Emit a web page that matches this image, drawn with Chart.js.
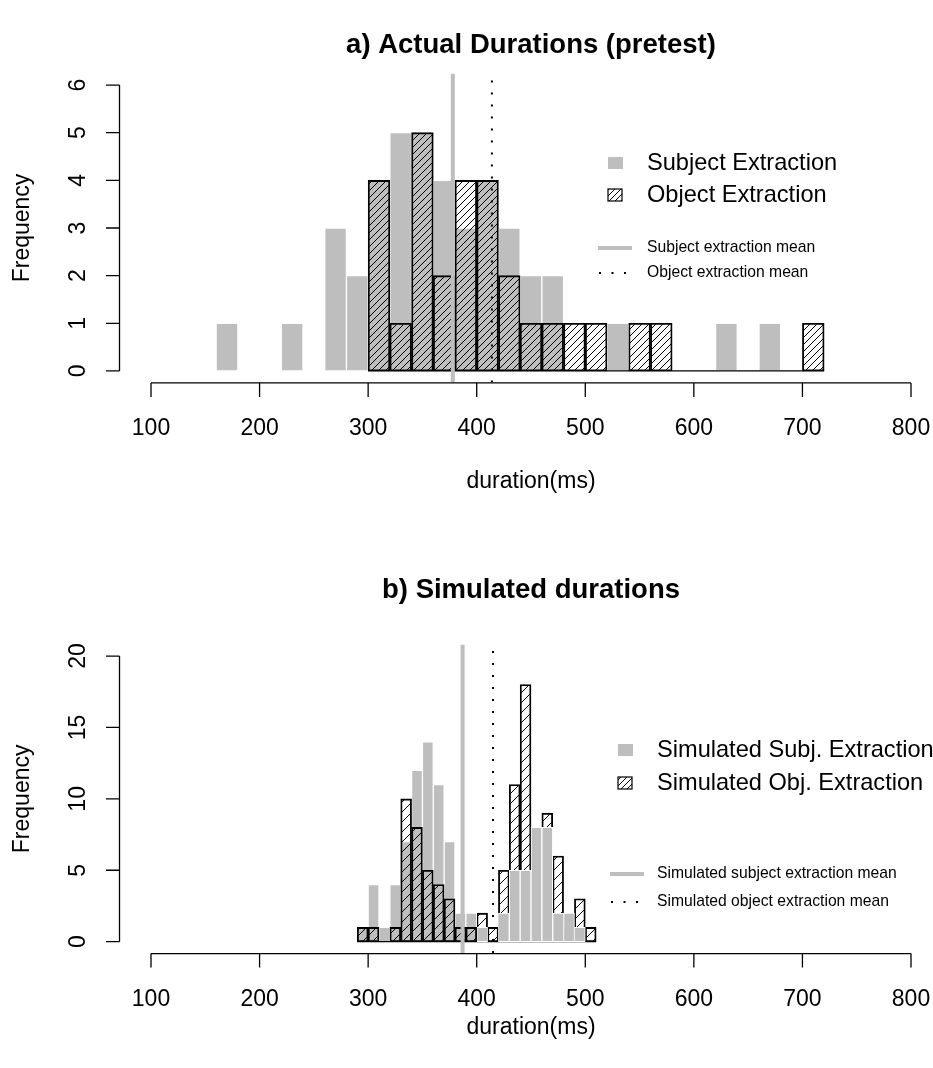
<!DOCTYPE html>
<html>
<head>
<meta charset="utf-8">
<script src="https://cdn.jsdelivr.net/npm/chart.js@4.4.0/dist/chart.umd.min.js"></script>
<style>
    html, body { margin: 0; padding: 0; background: #fff; }
    #wrap { position: relative; width: 933px; height: 1068px; overflow: hidden; }
    canvas { position: absolute; left: 0; }
</style>
</head>
<body>
<div id="wrap">
    <canvas id="chart-actual" width="933" height="534" style="top:0"></canvas>
    <canvas id="chart-sim" width="933" height="534" style="top:534px"></canvas>
</div>
<script>
// a) actual durations, 20 ms bins (left edge of each bin)
const actualSubjBins = [160, 180, 200, 220, 240, 260, 280, 300, 320, 340, 360, 380, 400, 420, 440, 460, 480, 500, 520, 540, 560, 580, 600, 620, 640, 660, 680, 700];
const actualSubjCounts = [1, 0, 0, 1, 0, 3, 2, 4, 5, 5, 4, 3, 4, 3, 2, 2, 0, 0, 1, 0, 0, 0, 0, 1, 0, 1, 0, 0];
const actualObjBins = [300, 320, 340, 360, 380, 400, 420, 440, 460, 480, 500, 520, 540, 560, 580, 600, 620, 640, 660, 680, 700];
const actualObjCounts = [4, 1, 5, 2, 4, 4, 2, 1, 1, 1, 1, 0, 1, 1, 0, 0, 0, 0, 0, 0, 1];
const actualBinWidth = 20;
const actualSubjMean = 378;
const actualObjMean = 414;

// b) simulated durations, 10 ms bins
const simBins = [290, 300, 310, 320, 330, 340, 350, 360, 370, 380, 390, 400, 410, 420, 430, 440, 450, 460, 470, 480, 490, 500];
const simSubjCounts = [1, 4, 1, 4, 7, 12, 14, 11, 7, 2, 2, 1, 0, 2, 5, 5, 8, 8, 2, 2, 1, 0];
const simObjCounts = [1, 1, 0, 1, 10, 8, 5, 4, 3, 1, 1, 2, 1, 5, 11, 18, 8, 9, 6, 1, 3, 1];
const simBinWidth = 10;
const simSubjMean = 387;
const simObjMean = 415;
// in the original the upper object bins sit underneath the grey bars
const simObjSplit = 400;

const xTicks = [100, 200, 300, 400, 500, 600, 700, 800];
const actualYTicks = [0, 1, 2, 3, 4, 5, 6];
const simYTicks = [0, 5, 10, 15, 20];

const FONT = '"Liberation Sans", Arial, Helvetica, sans-serif';
const GREY = '#bebebe';

const hatch = (spacing) => {
    const tile = document.createElement('canvas');
    tile.width = spacing;
    tile.height = spacing;
    const g = tile.getContext('2d');
    g.strokeStyle = '#000';
    g.lineWidth = 1;
    g.beginPath();
    g.moveTo(0, spacing); g.lineTo(spacing, 0);
    g.moveTo(-1, 1); g.lineTo(1, -1);
    g.moveTo(spacing - 1, spacing + 1); g.lineTo(spacing + 1, spacing - 1);
    g.stroke();
    return g.createPattern(tile, 'repeat');
};

const toBars = (bins, counts, width) => bins.map((b, i) => ({ x: b + width / 2, y: counts[i] }));

const greyBars = (data, order) => ({
    type: 'bar', data, order,
    backgroundColor: GREY, borderColor: '#fff', borderWidth: 1, borderSkipped: false,
    grouped: false, barPercentage: 1, categoryPercentage: 1
});
const hatchBars = (data, order, spacing) => ({
    type: 'bar', data, order,
    backgroundColor: hatch(spacing), borderColor: '#000', borderWidth: 1.2, borderSkipped: false,
    grouped: false, barPercentage: 1, categoryPercentage: 1
});
const lineSet = (data, order, color, width, dash) => ({
    type: 'line', data, order,
    borderColor: color, borderWidth: width, borderDash: dash || [], pointRadius: 0, tension: 0
});

// R style axes, titles and legend
const rStyle = {
    id: 'rStyle',
    afterDraw(chart, args, o) {
        const { ctx, chartArea } = chart;
        const xs = chart.scales.x, ys = chart.scales.y;
        ctx.save();
        ctx.strokeStyle = '#000';
        ctx.fillStyle = '#000';
        ctx.lineWidth = 1.3;

        const axisY = chartArea.bottom + 0.5;
        const axisX = xs.getPixelForValue(o.yAxisAt);
        ctx.beginPath();
        ctx.moveTo(xs.getPixelForValue(xTicks[0]), axisY);
        ctx.lineTo(xs.getPixelForValue(xTicks[xTicks.length - 1]), axisY);
        xTicks.forEach(v => {
            const px = xs.getPixelForValue(v);
            ctx.moveTo(px, axisY);
            ctx.lineTo(px, axisY + 14);
        });
        ctx.moveTo(axisX, ys.getPixelForValue(o.yTicks[0]));
        ctx.lineTo(axisX, ys.getPixelForValue(o.yTicks[o.yTicks.length - 1]));
        o.yTicks.forEach(v => {
            const py = ys.getPixelForValue(v);
            ctx.moveTo(axisX, py);
            ctx.lineTo(axisX - 13.5, py);
        });
        ctx.stroke();

        ctx.font = '23px ' + FONT;
        ctx.textAlign = 'center';
        ctx.textBaseline = 'alphabetic';
        xTicks.forEach(v => ctx.fillText(String(v), xs.getPixelForValue(v), axisY + 52.3));
        o.yTicks.forEach(v => {
            ctx.save();
            ctx.translate(axisX - 35, ys.getPixelForValue(v));
            ctx.rotate(-Math.PI / 2);
            ctx.fillText(String(v), 0, 0);
            ctx.restore();
        });

        ctx.textBaseline = 'middle';
        ctx.fillText('duration(ms)', 531, o.xlabY);
        ctx.save();
        ctx.translate(22.5, (chartArea.top + chartArea.bottom) / 2);
        ctx.rotate(-Math.PI / 2);
        ctx.fillText('Frequency', 0, 0);
        ctx.restore();

        ctx.font = 'bold 27.5px ' + FONT;
        ctx.fillText(o.title, 531, o.titleY);

        // legend
        const lg = o.legend;
        ctx.textAlign = 'left';
        ctx.font = '23.6px ' + FONT;
        ctx.fillStyle = GREY;
        ctx.fillRect(lg.boxX, lg.row1 - 6, 15, 12);
        ctx.fillStyle = '#000';
        ctx.fillText(lg.labels[0], lg.textX, lg.row1);
        ctx.fillStyle = hatch(6);
        ctx.fillRect(lg.boxX, lg.row2 - 6, 14, 12);
        ctx.lineWidth = 1.2;
        ctx.strokeRect(lg.boxX, lg.row2 - 6, 14, 12);
        ctx.fillStyle = '#000';
        ctx.fillText(lg.labels[1], lg.textX, lg.row2);

        ctx.font = '15.7px ' + FONT;
        ctx.strokeStyle = GREY;
        ctx.lineWidth = 4;
        ctx.beginPath();
        ctx.moveTo(lg.lineX, lg.row3);
        ctx.lineTo(lg.lineX + 34, lg.row3);
        ctx.stroke();
        ctx.fillText(lg.labels[2], lg.textX, lg.row3);
        [0, 12.5, 25].forEach(d => ctx.fillRect(lg.lineX + 2 + d - 1, lg.row4 - 1, 2, 2));
        ctx.fillText(lg.labels[3], lg.textX, lg.row4);
        ctx.restore();
    }
};

const baseOptions = (padding, yMin, yMax, deco) => ({
    responsive: false,
    animation: false,
    devicePixelRatio: 1,
    layout: { padding },
    scales: {
        x: { type: 'linear', min: 100, max: 800, offset: false, display: false, ticks: { stepSize: 100 } },
        y: { type: 'linear', min: yMin, max: yMax, display: false }
    },
    plugins: { legend: { display: false }, tooltip: { enabled: false }, rStyle: deco }
});

// a) Actual durations
const actualObjEnd = actualObjBins[actualObjBins.length - 1] + actualBinWidth;
new Chart(document.getElementById('chart-actual'), {
    type: 'bar',
    data: {
        datasets: [
            greyBars(toBars(actualSubjBins, actualSubjCounts, actualBinWidth), 5),
            hatchBars(toBars(actualObjBins, actualObjCounts, actualBinWidth), 4, 7),
            lineSet([{ x: actualObjBins[0], y: 0 }, { x: actualObjEnd, y: 0 }], 3, '#000', 1.3),
            lineSet([{ x: actualSubjMean, y: -0.24 }, { x: actualSubjMean, y: 6.24 }], 2, GREY, 4),
            lineSet([{ x: actualObjMean, y: -0.24 }, { x: actualObjMean, y: 6.24 }], 1, '#000', 2, [2, 10])
        ]
    },
    options: baseOptions({ left: 151, right: 22, top: 73.6, bottom: 151.6 }, -0.24, 6.24, {
        title: 'a) Actual Durations (pretest)', titleY: 45, xlabY: 482,
        yTicks: actualYTicks, yAxisAt: 71,
        legend: {
            boxX: 608, textX: 647, lineX: 598, row1: 163, row2: 195, row3: 248, row4: 273,
            labels: ['Subject Extraction', 'Object Extraction', 'Subject extraction mean', 'Object extraction mean']
        }
    }),
    plugins: [rStyle]
});

// b) Simulated durations
const simLowBins = simBins.filter(b => b < simObjSplit);
const simHighBins = simBins.filter(b => b >= simObjSplit);
const simObjLow = simObjCounts.filter((c, i) => simBins[i] < simObjSplit);
const simObjHigh = simObjCounts.filter((c, i) => simBins[i] >= simObjSplit);
new Chart(document.getElementById('chart-sim'), {
    type: 'bar',
    data: {
        datasets: [
            hatchBars(toBars(simHighBins, simObjHigh, simBinWidth), 7, 10),
            lineSet([{ x: simHighBins[0], y: 0 }, { x: simHighBins[simHighBins.length - 1] + simBinWidth, y: 0 }], 6, '#000', 1.3),
            greyBars(toBars(simBins, simSubjCounts, simBinWidth), 5),
            hatchBars(toBars(simLowBins, simObjLow, simBinWidth), 4, 10),
            lineSet([{ x: simLowBins[0], y: 0 }, { x: simObjSplit, y: 0 }], 3, '#000', 1.3),
            lineSet([{ x: simSubjMean, y: -0.8 }, { x: simSubjMean, y: 20.8 }], 2, GREY, 4),
            lineSet([{ x: simObjMean, y: -0.8 }, { x: simObjMean, y: 20.8 }], 1, '#000', 2, [2, 10])
        ]
    },
    options: baseOptions({ left: 151, right: 22, top: 110.6, bottom: 114.9 }, -0.8, 20.8, {
        title: 'b) Simulated durations', titleY: 56, xlabY: 494,
        yTicks: simYTicks, yAxisAt: 71,
        legend: {
            boxX: 618, textX: 657, lineX: 610, row1: 216, row2: 249, row3: 340, row4: 368,
            labels: ['Simulated Subj. Extraction', 'Simulated Obj. Extraction', 'Simulated subject extraction mean', 'Simulated object extraction mean']
        }
    }),
    plugins: [rStyle]
});
</script>
</body>
</html>
